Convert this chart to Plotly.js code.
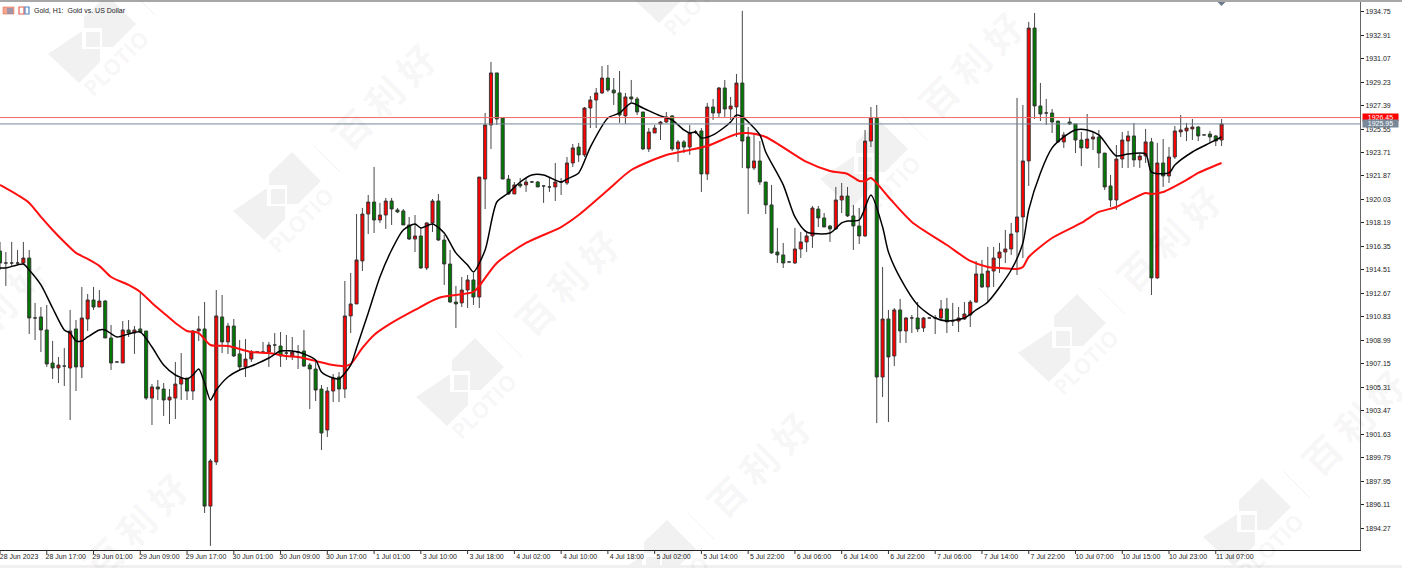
<!DOCTYPE html>
<html>
<head>
<meta charset="utf-8">
<script src="https://cdn.plot.ly/plotly-3.0.1.min.js"></script>
<style>html,body{margin:0;padding:0;background:#fff;overflow:hidden}#chart{width:1402px;height:568px}</style>
</head>
<body>
<div id="chart"></div>
<script>
var opens=[1915.99,1915.05,1915.05,1915.05,1915.05,1915.44,1910.74,1910.82,1909.80,1907.21,
1906.82,1906.97,1906.82,1909.88,1906.90,1910.66,1912.15,1911.60,1912.07,1909.17,
1907.29,1907.21,1909.80,1909.56,1909.88,1909.72,1904.46,1905.33,1905.17,1904.31,
1904.46,1905.56,1906.03,1905.01,1909.72,1909.88,1895.99,1899.45,1910.82,1908.86,
1910.11,1907.92,1906.90,1907.52,1908.07,1908.07,1908.07,1908.62,1908.54,1907.99,
1907.76,1908.07,1908.15,1907.05,1906.74,1905.17,1901.96,1905.01,1906.11,1905.17,
1910.90,1911.84,1915.21,1918.89,1919.83,1918.42,1918.81,1919.91,1919.21,1919.13,
1918.03,1916.93,1917.17,1914.66,1918.19,1919.91,1916.85,1914.97,1911.99,1911.92,
1912.93,1913.72,1912.38,1921.63,1925.87,1929.95,1926.42,1921.63,1920.46,1921.24,
1921.17,1921.40,1921.40,1921.09,1921.01,1921.01,1921.40,1921.32,1922.89,1924.14,
1923.52,1927.20,1927.83,1928.38,1929.55,1928.61,1928.38,1926.58,1928.07,1927.91,
1926.89,1923.99,1925.24,1925.95,1926.10,1926.58,1923.99,1924.54,1924.14,1925.32,
1925.40,1922.03,1927.28,1926.81,1928.77,1927.12,1927.28,1929.16,1924.93,1922.50,
1923.05,1921.40,1919.60,1915.91,1915.68,1915.13,1915.05,1916.15,1916.70,1917.17,
1919.28,1918.58,1917.95,1917.72,1919.99,1920.30,1918.74,1917.95,1917.17,1924.61,
1926.42,1906.11,1910.66,1907.76,1911.37,1909.72,1910.74,1910.74,1909.96,1910.74,
1910.74,1910.74,1911.45,1910.50,1910.50,1910.66,1910.97,1911.99,1914.19,1913.17,
1914.42,1915.44,1915.91,1916.15,1917.48,1918.66,1923.05,1933.47,1927.36,1926.81,
1926.81,1926.18,1924.54,1926.10,1925.95,1924.69,1924.07,1924.77,1924.93,1923.67,
1921.09,1919.99,1923.20,1924.61,1925.01,1923.13,1923.44,1924.54,1913.88,1922.89,
1921.87,1923.36,1925.32,1925.40,1925.56,1925.71,1925.09,1925.16,1925.01,1924.69];
var highs=[1916.70,1915.91,1916.70,1916.07,1916.70,1916.07,1911.92,1911.60,1911.76,1908.94,
1907.68,1908.39,1911.37,1910.58,1913.17,1912.62,1913.17,1912.93,1912.15,1910.19,
1907.29,1910.50,1910.58,1910.11,1912.70,1909.72,1905.56,1905.88,1905.64,1905.17,
1907.29,1907.99,1906.03,1909.80,1910.90,1911.99,1899.69,1912.93,1912.54,1910.35,
1910.66,1909.01,1909.09,1908.23,1908.15,1908.86,1908.86,1909.56,1909.64,1909.41,
1909.25,1908.62,1909.80,1907.21,1907.29,1905.48,1905.33,1906.35,1906.50,1913.64,
1914.27,1918.89,1919.36,1920.38,1922.58,1919.76,1920.15,1920.15,1919.36,1919.28,
1918.66,1918.81,1917.87,1918.27,1920.07,1920.46,1917.25,1916.07,1913.25,1913.95,
1914.11,1914.27,1921.79,1926.81,1930.81,1929.95,1926.42,1921.95,1921.40,1921.71,
1921.71,1921.48,1921.48,1921.09,1921.79,1922.89,1921.71,1923.36,1924.38,1924.46,
1927.28,1928.14,1928.77,1930.49,1930.57,1929.55,1930.10,1928.38,1929.40,1928.07,
1926.89,1925.63,1925.87,1926.18,1926.89,1926.65,1924.69,1924.69,1925.87,1925.48,
1925.63,1927.60,1927.91,1928.85,1929.40,1928.07,1929.87,1934.81,1925.71,1925.09,
1924.61,1921.40,1921.17,1917.80,1916.62,1915.13,1917.80,1917.48,1917.40,1919.52,
1919.52,1918.97,1918.03,1921.01,1921.32,1921.01,1919.60,1919.36,1925.48,1927.28,
1927.44,1914.74,1911.37,1911.52,1912.23,1910.82,1910.97,1911.99,1910.82,1910.74,
1910.97,1912.15,1912.31,1911.92,1911.60,1911.99,1912.15,1915.21,1915.29,1916.31,
1916.31,1916.62,1917.64,1918.19,1927.99,1927.44,1933.95,1934.65,1929.16,1927.91,
1927.12,1926.18,1925.32,1926.50,1925.95,1925.32,1926.73,1925.32,1925.48,1923.67,
1921.95,1924.30,1925.32,1925.40,1926.03,1923.60,1925.56,1924.85,1924.46,1924.77,
1924.14,1925.79,1926.65,1926.03,1926.34,1925.79,1925.09,1925.40,1925.09,1926.34];
var lows=[1914.50,1913.25,1914.82,1914.89,1914.89,1909.48,1909.01,1908.07,1906.90,1905.96,
1905.64,1905.41,1902.74,1905.01,1906.03,1909.72,1911.37,1911.60,1909.17,1906.66,
1907.29,1907.21,1909.25,1907.92,1909.64,1904.31,1902.35,1904.31,1903.06,1902.43,
1902.82,1904.31,1904.31,1904.31,1908.94,1895.45,1892.87,1899.21,1907.99,1907.92,
1907.68,1906.66,1906.11,1907.29,1907.99,1907.99,1906.90,1907.99,1906.90,1907.45,
1907.45,1906.74,1906.90,1903.60,1904.23,1900.39,1901.41,1904.15,1904.15,1904.46,
1909.56,1911.84,1914.42,1917.32,1917.40,1918.19,1917.72,1918.03,1918.97,1918.03,
1916.85,1915.91,1914.58,1914.50,1917.48,1916.78,1913.33,1911.92,1909.96,1911.60,
1911.52,1911.76,1911.52,1919.28,1923.99,1925.87,1921.63,1920.38,1920.46,1920.93,
1920.62,1921.32,1921.01,1919.76,1920.62,1919.91,1920.38,1921.17,1922.58,1922.97,
1923.36,1925.63,1925.63,1928.30,1928.46,1927.44,1926.03,1925.95,1927.67,1926.65,
1923.91,1923.75,1925.24,1924.69,1926.03,1923.83,1922.97,1923.67,1923.52,1925.16,
1920.62,1921.56,1926.26,1926.50,1926.50,1926.26,1924.93,1922.50,1918.89,1922.34,
1921.17,1918.89,1915.76,1915.05,1914.66,1915.13,1914.97,1915.44,1915.91,1916.23,
1917.87,1917.87,1916.70,1917.64,1918.97,1918.66,1916.07,1916.54,1917.09,1924.14,
1902.50,1904.54,1902.58,1906.97,1908.78,1908.78,1909.56,1909.64,1909.64,1910.74,
1909.48,1910.58,1909.56,1910.11,1909.64,1910.58,1910.03,1911.92,1913.09,1911.92,
1913.17,1914.27,1915.05,1915.68,1914.11,1915.44,1921.09,1926.34,1926.18,1925.87,
1925.24,1924.46,1924.07,1925.87,1923.67,1922.65,1923.99,1923.91,1922.50,1920.77,
1919.44,1919.21,1922.50,1922.50,1922.58,1922.50,1922.89,1912.54,1913.80,1921.01,
1921.32,1923.20,1924.93,1924.61,1924.69,1924.61,1925.09,1924.46,1924.22,1924.22];
var closes=[1915.05,1915.05,1915.05,1915.05,1915.44,1910.74,1910.74,1909.80,1907.13,1906.82,
1907.05,1906.97,1909.72,1906.90,1910.74,1912.15,1911.60,1912.07,1909.17,1907.21,
1907.29,1909.80,1909.56,1909.80,1909.64,1904.46,1905.33,1905.17,1904.31,1904.54,
1905.56,1906.03,1905.01,1909.72,1909.88,1895.99,1899.53,1910.90,1908.86,1910.11,
1907.76,1906.90,1907.52,1908.07,1908.07,1908.07,1908.62,1908.62,1907.76,1907.99,
1908.07,1908.07,1906.97,1906.74,1905.09,1901.72,1905.01,1906.03,1905.17,1910.90,
1911.84,1915.29,1918.89,1919.83,1918.42,1918.81,1919.91,1919.28,1919.05,1918.03,
1916.93,1917.17,1914.66,1918.19,1919.91,1916.85,1914.97,1911.99,1911.84,1912.93,
1913.72,1912.38,1921.79,1925.87,1929.95,1926.34,1921.63,1920.46,1921.17,1921.09,
1921.40,1921.40,1921.01,1921.09,1921.01,1921.40,1921.40,1922.89,1924.07,1923.52,
1927.20,1927.83,1928.38,1929.55,1928.61,1928.38,1926.65,1928.07,1927.91,1926.89,
1923.99,1925.32,1925.63,1926.10,1926.50,1923.99,1924.54,1924.14,1925.24,1925.32,
1922.03,1927.28,1926.81,1928.77,1927.12,1927.36,1929.16,1924.61,1922.50,1923.05,
1921.40,1919.60,1915.84,1915.68,1915.05,1915.13,1916.15,1916.70,1917.17,1919.36,
1918.58,1917.87,1917.72,1919.99,1920.30,1918.74,1917.95,1917.17,1924.61,1926.42,
1906.11,1910.66,1907.68,1911.37,1909.72,1910.74,1910.74,1909.88,1910.74,1910.74,
1910.74,1911.45,1910.43,1910.50,1910.74,1911.05,1911.99,1914.19,1913.17,1914.42,
1915.44,1915.91,1916.15,1917.32,1918.66,1923.05,1933.47,1927.36,1926.73,1926.81,
1926.10,1924.54,1925.09,1925.95,1924.69,1924.07,1924.77,1924.93,1923.67,1921.01,
1919.99,1923.20,1924.69,1925.01,1923.13,1923.44,1924.54,1913.88,1922.89,1921.87,
1923.36,1925.40,1925.48,1925.63,1925.71,1925.01,1925.09,1924.93,1924.61,1925.95];
var slowMaBars=[0,3,5,7,9,11,13,15,17,19,22,24,26,28,30,32,34,36,39,43,46,49,51,54,57,59,60,62,64,67,71,75,81,82,85,90,96,99,104,108,114,118,121,126,128,131,138,142,145,147,148,149,152,156,162,166,169,171,174,175,176,180,185,188,191,193,196,197,199,203,205,209];
var slowMaValues=[1921.17,1920.38,1919.76,1918.66,1917.64,1916.70,1915.84,1915.37,1914.82,1913.95,1913.33,1912.78,1911.92,1911.13,1910.35,1909.72,1909.56,1908.62,1908.54,1908.07,1907.99,1907.76,1907.68,1907.37,1907.05,1906.97,1907.13,1908.39,1909.41,1910.35,1911.37,1912.31,1912.78,1913.25,1915.05,1916.62,1917.87,1918.81,1920.77,1922.34,1923.52,1923.91,1924.22,1925.16,1925.24,1924.93,1922.97,1922.26,1922.03,1921.48,1921.48,1921.71,1920.22,1918.27,1916.46,1915.21,1914.74,1914.66,1914.58,1914.74,1915.52,1917.01,1918.19,1919.05,1919.44,1919.91,1920.54,1920.46,1920.62,1921.56,1922.11,1922.89];
var fastMaBars=[0,1,4,5,7,9,11,12,13,14,15,17,18,20,22,24,26,28,30,32,33,34,35,36,37,39,41,43,46,48,51,54,55,57,58,60,61,63,65,67,69,71,72,74,76,78,80,81,83,85,87,89,91,93,96,97,99,101,104,106,108,110,113,115,117,118,119,120,122,124,125,126,127,130,131,134,136,138,142,144,145,147,149,151,152,154,157,160,162,165,167,169,173,175,176,178,180,182,184,186,188,190,191,193,196,197,200,201,204,207,209];
var fastMaValues=[1914.66,1914.66,1914.97,1914.50,1913.33,1911.52,1909.80,1909.56,1908.94,1908.94,1909.25,1909.80,1909.80,1909.25,1909.48,1909.64,1908.46,1907.05,1906.27,1905.96,1906.27,1906.74,1905.64,1904.31,1905.09,1906.11,1906.66,1906.97,1907.60,1908.15,1908.07,1907.45,1906.50,1906.03,1905.96,1907.05,1908.39,1911.13,1913.95,1916.07,1917.64,1918.11,1917.80,1918.11,1917.40,1915.84,1914.89,1914.35,1916.07,1919.83,1920.54,1921.40,1921.95,1921.95,1921.40,1921.63,1922.11,1924.14,1926.42,1926.81,1927.60,1927.20,1926.58,1926.26,1925.48,1925.24,1925.32,1924.85,1925.09,1925.71,1926.10,1926.65,1926.50,1925.09,1923.75,1921.17,1918.66,1917.48,1917.40,1918.19,1918.34,1918.42,1920.38,1917.87,1915.91,1913.88,1911.76,1910.74,1910.50,1910.74,1911.37,1911.99,1914.50,1916.62,1919.21,1922.11,1924.07,1924.93,1925.48,1925.48,1925.09,1923.91,1923.44,1923.60,1923.60,1922.18,1922.11,1922.73,1923.75,1924.46,1924.93];
var priceTicks=[1934.75,1932.91,1931.07,1929.23,1927.39,1925.55,1923.71,1921.87,1920.03,1918.19,1916.35,1914.51,1912.67,1910.83,1908.99,1907.15,1905.31,1903.47,1901.63,1899.79,1897.95,1896.11,1894.27];
var timeLabels=["28 Jun 2023","28 Jun 17:00","29 Jun 01:00","29 Jun 09:00","29 Jun 17:00","30 Jun 01:00","30 Jun 09:00","30 Jun 17:00","1 Jul 01:00","3 Jul 10:00","3 Jul 18:00","4 Jul 02:00","4 Jul 10:00","4 Jul 18:00","5 Jul 02:00","5 Jul 14:00","5 Jul 22:00","6 Jul 06:00","6 Jul 14:00","6 Jul 22:00","7 Jul 06:00","7 Jul 14:00","7 Jul 22:00","10 Jul 07:00","10 Jul 15:00","10 Jul 23:00","11 Jul 07:00"];
var askPrice=1926.45, bidPrice=1925.95;

var W=1402,H=568,L=0,R=42,T=2,B=18,PW=W-L-R,PH=H-T-B;
var barPx=5.845;
function fx(px){return (px-L)/PW;}
function fy(py){return 1-(py-T)/PH;}
function poly(pts,cx,cy){return 'M'+pts.map(function(p){return fx(cx+p[0]).toFixed(5)+','+fy(cy+p[1]).toFixed(5);}).join('L')+'Z';}
var bars=opens.map(function(_,i){return i;});
var tickIdx=timeLabels.map(function(_,i){return i*8;});
var labelPos=tickIdx.map(function(v){return v+3.25;});

var wm='rgba(0,0,0,0.055)', shapes=[], annos=[];
var logos=[[100,35],[285,192],[468,378],[660,560],[680,-25],[872,160],[1070,334],[1255,518]];
function wmText(x,y){
  annos.push({xref:'paper',yref:'paper',x:fx(x),y:fy(y),text:'<b>百 利 好</b>',showarrow:false,textangle:-45,xanchor:'center',yanchor:'middle',font:{family:'Noto Sans CJK SC',size:37,color:wm}});
}
logos.forEach(function(c){
  var cx=c[0],cy=c[1];
  [[[7,-40],[36,-11],[13,12],[2,12],[2,-7],[-16,-7],[-16,-18]],
   [[-52,19],[-18,-4],[-18,14],[0,14],[0,27],[-21,48]],
   [[-14,-3],[0,-3],[0,12],[-14,12]]].forEach(function(p){
     shapes.push({type:'path',xref:'paper',yref:'paper',path:poly(p,cx,cy),fillcolor:wm,line:{width:0},layer:'below'});
  });
  shapes.push({type:'path',xref:'paper',yref:'paper',path:'M'+fx(cx+28)+','+fy(cy-47)+'L'+fx(cx+55)+','+fy(cy-20),line:{color:'rgba(0,0,0,0.05)',width:1},layer:'below'});
  annos.push({xref:'paper',yref:'paper',x:fx(cx+15),y:fy(cy+28),text:'<b>PLOTIO</b>',showarrow:false,textangle:-45,xanchor:'center',yanchor:'middle',font:{family:'Open Sans',size:22,color:wm}});
  wmText(cx+98,cy-96);
});
wmText(135,525);wmText(-5,310);

shapes.push({type:'line',xref:'paper',yref:'y',x0:0,x1:1,y0:askPrice,y1:askPrice,line:{color:'#f06a6a',width:1}});
shapes.push({type:'line',xref:'paper',yref:'y',x0:0,x1:1,y0:bidPrice,y1:bidPrice,line:{color:'#778899',width:1}});
shapes.push({type:'line',xref:'paper',yref:'paper',x0:0,x1:fx(W),y0:fy(1),y1:fy(1),line:{color:'#8a8a8a',width:1.5}});
shapes.push({type:'rect',xref:'paper',yref:'paper',x0:0,x1:fx(W),y0:fy(565),y1:fy(H),fillcolor:'#f0f0f0',line:{width:0}});
shapes.push({type:'path',xref:'paper',yref:'paper',path:poly([[-4,0],[4,0],[0,4]],1221.5,2),fillcolor:'#6b7b8c',line:{width:0}});
tickIdx.forEach(function(v){
  shapes.push({type:'line',xref:'x',yref:'paper',x0:v,x1:v,y0:0,y1:fy(554),line:{color:'#333',width:1}});
});
// legend glyphs
shapes.push({type:'rect',xref:'paper',yref:'paper',x0:fx(3),x1:fx(14),y0:fy(7),y1:fy(14),fillcolor:'#f4a58c',line:{color:'#e0705c',width:0.6}});
shapes.push({type:'path',xref:'paper',yref:'paper',path:'M'+fx(7)+','+fy(9)+'L'+fx(13)+','+fy(9)+'M'+fx(7)+','+fy(11)+'L'+fx(13)+','+fy(11)+'M'+fx(7)+','+fy(13)+'L'+fx(13)+','+fy(13),line:{color:'#4f86c6',width:1}});
shapes.push({type:'path',xref:'paper',yref:'paper',path:poly([[0,0],[5,0],[5,7],[0,7]],19,7),fillcolor:'rgba(0,0,0,0)',line:{color:'#e8604c',width:1.2}});
shapes.push({type:'path',xref:'paper',yref:'paper',path:poly([[0,0],[4,0],[4,7],[0,7]],25,7),fillcolor:'rgba(0,0,0,0)',line:{color:'#4f86c6',width:1.2}});

annos.push({xref:'paper',yref:'paper',x:fx(32),y:fy(10.3),text:'Gold, H1:  Gold vs. US Dollar',showarrow:false,xanchor:'left',yanchor:'middle',font:{family:'Liberation Sans',size:7,color:'#222'}});
annos.push({xref:'paper',yref:'y',x:fx(1362),y:askPrice,text:askPrice.toFixed(2),showarrow:false,xanchor:'left',yanchor:'middle',bgcolor:'#ff0000',width:35,height:7,borderpad:0,align:'center',font:{family:'Liberation Sans',size:7,color:'#fff'}});
annos.push({xref:'paper',yref:'y',x:fx(1362),y:bidPrice,text:bidPrice.toFixed(2),showarrow:false,xanchor:'left',yanchor:'middle',bgcolor:'#778899',width:35,height:7,borderpad:0,align:'center',font:{family:'Liberation Sans',size:7,color:'#fff'}});

var traces=[
 {type:'candlestick',x:bars,open:opens,high:highs,low:lows,close:closes,whiskerwidth:0,
  increasing:{line:{color:'#333',width:0.9},fillcolor:'#ff0000'},
  decreasing:{line:{color:'#333',width:0.9},fillcolor:'#007a00'},showlegend:false,hoverinfo:'skip'},
 {type:'scatter',mode:'lines',x:slowMaBars,y:slowMaValues,line:{color:'#ff1010',width:2,shape:'spline',smoothing:0.7},showlegend:false,hoverinfo:'skip'},
 {type:'scatter',mode:'lines',x:fastMaBars,y:fastMaValues,line:{color:'#000',width:1.5,shape:'spline',smoothing:0.7},showlegend:false,hoverinfo:'skip'}
];
var layout={
 width:W,height:H,margin:{l:L,r:R,t:T,b:B,autoexpand:false},paper_bgcolor:'#fff',plot_bgcolor:'#fff',
 showlegend:false,boxgap:0.24,dragmode:false,
 xaxis:{type:'linear',range:[0,PW/barPx],rangeslider:{visible:false},showgrid:false,zeroline:false,
  tickmode:'array',tickvals:labelPos,ticktext:timeLabels,ticks:'',tickangle:0,ticklabeloverflow:'allow',
  tickfont:{family:'Liberation Sans',size:7,color:'#222'},
  showline:true,linecolor:'#222',linewidth:1},
 yaxis:{type:'linear',side:'right',range:[1892.55,1935.51],showgrid:false,zeroline:false,
  tickmode:'array',tickvals:priceTicks,ticktext:priceTicks.map(function(v){return v.toFixed(2);}),
  ticks:'outside',ticklen:3,tickcolor:'#222',tickwidth:1,
  tickfont:{family:'Liberation Sans',size:7,color:'#222'},
  showline:true,linecolor:'#666',linewidth:1},
 shapes:shapes,annotations:annos
};
Plotly.newPlot('chart',traces,layout,{displayModeBar:false,staticPlot:true});
</script>
</body>
</html>
